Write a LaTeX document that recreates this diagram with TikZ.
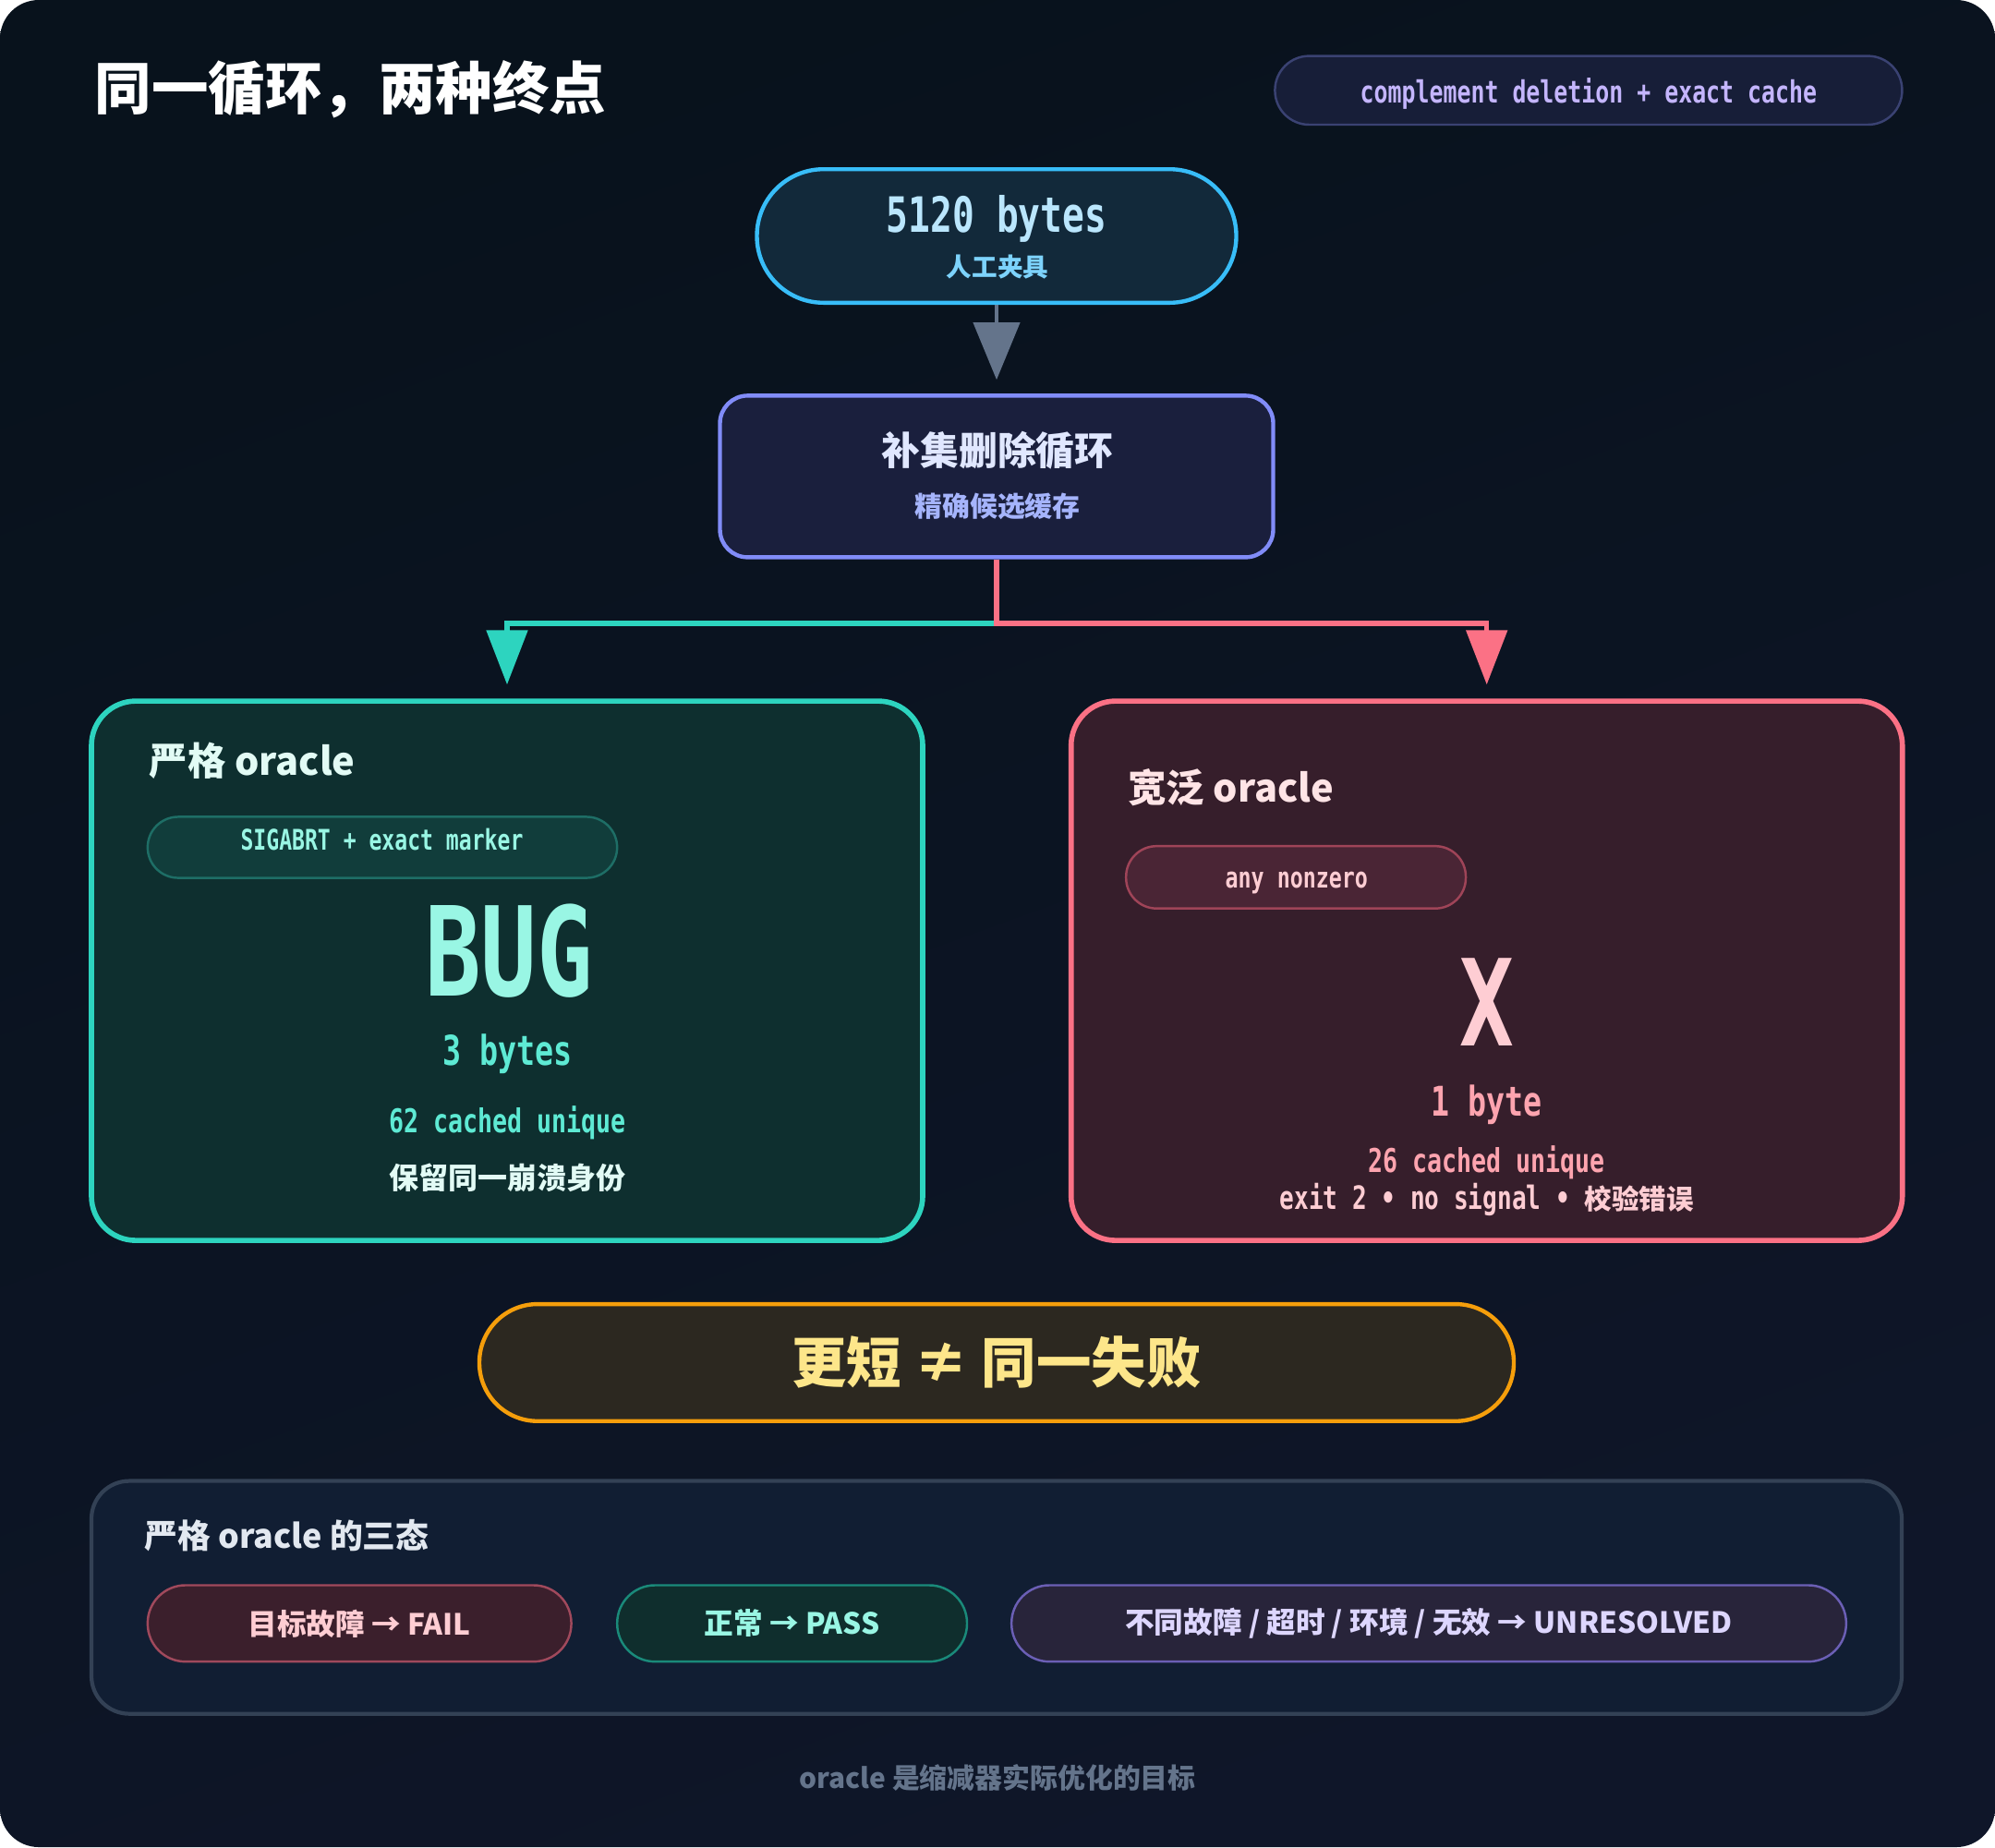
\documentclass[tikz,border=0pt]{standalone}
\usepackage{graphicx}
\usepackage{fontspec}
\setmainfont{Noto Sans CJK SC}
\newfontfamily\cjk{Noto Sans CJK SC}
\newfontfamily\mono{DejaVu Sans Mono}
\usetikzlibrary{arrows.meta, positioning, calc}

\newcommand{\fs}[1]{\fontsize{#1}{#1}\selectfont}
\newcommand{\cond}[1]{\scalebox{0.75}[1]{#1}}

\definecolor{bgA}{HTML}{08121C}
\definecolor{bgB}{HTML}{0F1629}
\definecolor{tagfill}{HTML}{171E38}
\definecolor{tagline}{HTML}{3A4272}
\definecolor{taglab}{HTML}{C4B5FD}
\definecolor{srcfill}{HTML}{12293A}
\definecolor{srcline}{HTML}{38BDF8}
\definecolor{srctext}{HTML}{BAE6FD}
\definecolor{srcsub}{HTML}{7DD3FC}
\definecolor{loopfill}{HTML}{1A1F3D}
\definecolor{loopline}{HTML}{818CF8}
\definecolor{looptext}{HTML}{E0E7FF}
\definecolor{loopsub}{HTML}{A5B4FC}
\definecolor{arrgray}{HTML}{64748B}
\definecolor{tealline}{HTML}{2DD4BF}
\definecolor{pinkline}{HTML}{FB7185}
\definecolor{strictfill}{HTML}{0E2F2F}
\definecolor{strictchip}{HTML}{113D3B}
\definecolor{strictchipline}{HTML}{1E6E66}
\definecolor{stricthead}{HTML}{E2FBF5}
\definecolor{mint}{HTML}{99F6E4}
\definecolor{tealtext}{HTML}{5EEAD4}
\definecolor{broadfill}{HTML}{361E2B}
\definecolor{broadchip}{HTML}{4A2535}
\definecolor{broadchipline}{HTML}{9F4458}
\definecolor{broadhead}{HTML}{FFE4E6}
\definecolor{blush}{HTML}{FECDD3}
\definecolor{rosetext}{HTML}{FDA4AF}
\definecolor{amberfill}{HTML}{2C2820}
\definecolor{amberline}{HTML}{F59E0B}
\definecolor{ambertext}{HTML}{FDE68A}
\definecolor{panelfill}{HTML}{111E33}
\definecolor{panelline}{HTML}{334155}
\definecolor{panelhead}{HTML}{E2E8F0}
\definecolor{failfill}{HTML}{3B1F2C}
\definecolor{failline}{HTML}{A0495C}
\definecolor{passfill}{HTML}{0F2E2D}
\definecolor{passline}{HTML}{1A8A7A}
\definecolor{unresfill}{HTML}{28243A}
\definecolor{unresline}{HTML}{6B5FB5}
\definecolor{unrestext}{HTML}{DDD6FE}

\begin{document}
\begin{tikzpicture}[
  lbl/.style={inner sep=0},
  code/.style={lbl, anchor=base, font=\mono\bfseries\fs{#1}},
  stage/.style={draw, rectangle, line width=1.25pt, inner sep=0},
  pane/.style={draw, rectangle, rounded corners=0.48cm, line width=1.6pt,
    minimum width=9cm, minimum height=5.84cm},
  chip/.style={draw, rectangle, line width=0.7pt, inner sep=0},
  state/.style={chip, rounded corners=0.41cm, minimum height=0.827cm,
    font=\cjk\bfseries\fs{9}},
  flow/.style={line width=1.5pt, -{Triangle[length=0.59cm, width=0.44cm]},
    shorten >=0.15cm},
]
\useasboundingbox (0,0) rectangle (21.6,-20);
% Canvas
\fill[white] (0,0) rectangle (21.6,-20);
\shade[rounded corners=0.42cm, top color=bgA, bottom color=bgB, shading angle=20]
  (0,0) rectangle (21.6,-20);

% Header
\node[lbl, anchor=west, text=white, font=\cjk\bfseries\fs{17.5}] (title)
  at (1.019,-0.964) {同一循环，两种终点};
\node[chip, fill=tagfill, draw=tagline, rounded corners=0.37cm,
  minimum width=6.79cm, minimum height=0.744cm] (tag) at (17.199,-0.978) {};
\node[code=9.44, text=taglab] (tagtext) at (17.199,-1.116)
  {\cond{complement deletion + exact cache}};

% Input and loop
\node[stage, fill=srcfill, draw=srcline, rounded corners=0.72cm,
  minimum width=5.19cm, minimum height=1.446cm] (src) at (10.79,-2.555) {};
\node[code=15, text=srctext] (srcbytes) at (10.79,-2.51) {\cond{5120 bytes}};
\node[lbl, text=srcsub, font=\cjk\bfseries\fs{7.84}] (srcnote)
  at (10.80,-2.893) {人工夹具};

\node[stage, fill=loopfill, draw=loopline, rounded corners=0.3cm,
  minimum width=5.99cm, minimum height=1.75cm] (loop) at (10.79,-5.159) {};
\node[lbl, text=looptext, font=\cjk\bfseries\fs{11.9}] (looptitle)
  at (10.80,-4.877) {补集删除循环};
\node[lbl, text=loopsub, font=\cjk\bfseries\fs{8.5}] (loopnote)
  at (10.80,-5.483) {精确候选缓存};

\draw[line width=1.2pt, arrgray, -{Triangle[length=0.62cm, width=0.5cm]},
  shorten >=0.15cm] (src) -- (loop);

% Two oracles
\node[pane, fill=strictfill, draw=tealline] (strict) at (5.49,-10.511) {};
\node[pane, fill=broadfill, draw=pinkline] (broad) at (16.097,-10.511) {};

\coordinate (split) at (10.79,-6.750);
\draw[flow, tealline] (loop.south) -- (split) -| (strict.north);
\draw[flow, pinkline] (loop.south) -- (split) -| (broad.north);

% Strict side
\node[lbl, anchor=west, text=stricthead, font=\cjk\bfseries\fs{11.8}] (stricttitle)
  at (1.612,-8.238) {严格 oracle};
\node[chip, fill=strictchip, draw=strictchipline, rounded corners=0.33cm,
  minimum width=5.083cm, minimum height=0.661cm] (strictrule) at (4.140,-9.175) {};
\node[code=8.76, text=mint] (strictruletext) at (4.135,-9.205)
  {\cond{SIGABRT + exact marker}};
\node[code=38.2, text=mint] (bug) at (5.51,-10.787) {\cond{BUG}};
\node[code=12.65, text=tealtext] (bugsize) at (5.497,-11.53) {\cond{3 bytes}};
\node[code=10.1, text=tealtext] (bugcache) at (5.497,-12.26) {\cond{62 cached unique}};
\node[lbl, text=stricthead, font=\cjk\bfseries\fs{9.1}] (bugnote)
  at (5.497,-12.757) {保留同一崩溃身份};

% Broad side
\node[lbl, anchor=west, text=broadhead, font=\cjk\bfseries\fs{11.8}] (broadtitle)
  at (12.206,-8.527) {宽泛 oracle};
\node[chip, fill=broadchip, draw=broadchipline, rounded corners=0.33cm,
  minimum width=3.678cm, minimum height=0.675cm] (broadrule) at (14.031,-9.499) {};
\node[code=8.84, text=blush] (broadruletext) at (14.038,-9.616) {\cond{any nonzero}};
\node[code=37, text=blush] (xmark) at (16.097,-11.324) {\cond{X}};
\node[code=12.6, text=rosetext] (xsize) at (16.097,-12.08) {\cond{1 byte}};
\node[code=10.1, text=rosetext] (xcache) at (16.097,-12.69) {\cond{26 cached unique}};
\node[code=9.9, text=blush] (xnote) at (16.097,-13.09)
  {\cond{exit 2 • no signal • }{\cjk\fs{8.4}校验错误}};

% Verdict
\node[chip, line width=1.25pt, fill=amberfill, draw=amberline, rounded corners=0.63cm,
  minimum width=11.2cm, minimum height=1.267cm,
  text=ambertext, font=\cjk\bfseries\fs{16.9}] (verdict) at (10.79,-14.754)
  {更短 ≠ 同一失败};

% Three states
\node[draw, rectangle, rounded corners=0.41cm, line width=1.2pt, fill=panelfill,
  draw=panelline, minimum width=19.6cm, minimum height=2.521cm] (states)
  at (10.79,-17.296) {};
\node[lbl, anchor=west, text=panelhead, font=\cjk\bfseries\fs{10.2}] (stateshead)
  at (1.557,-16.628) {严格 oracle 的三态};
\node[state, fill=failfill, draw=failline, minimum width=4.587cm, text=blush]
  (fail) at (3.892,-17.578) {目标故障 → FAIL};
\node[state, fill=passfill, draw=passline, minimum width=3.788cm, text=mint]
  (pass) at (8.576,-17.578) {正常 → PASS};
\node[state, fill=unresfill, draw=unresline, minimum width=9.037cm, text=unrestext]
  (unres) at (15.470,-17.578) {不同故障 / 超时 / 环境 / 无效 → UNRESOLVED};

% Footer
\node[lbl, text=arrgray, font=\cjk\bfseries\fs{8.5}] (foot)
  at (10.80,-19.245) {oracle 是缩减器实际优化的目标};
\end{tikzpicture}
\end{document}
